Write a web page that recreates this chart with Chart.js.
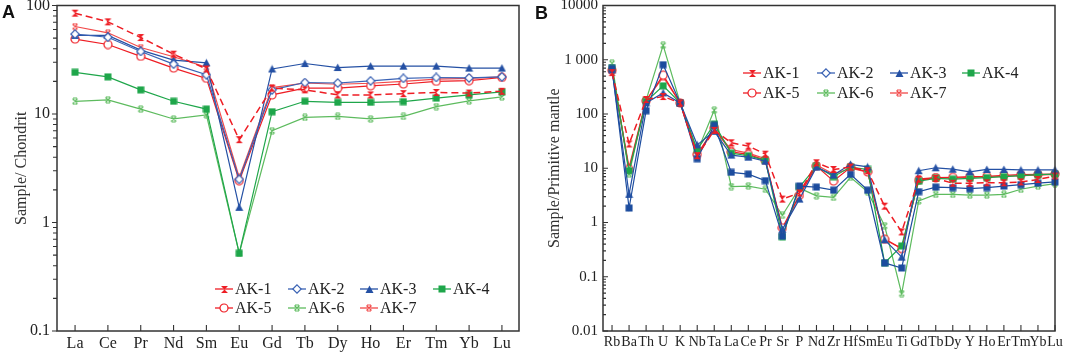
<!DOCTYPE html>
<html>
<head>
<meta charset="utf-8">
<script src="https://cdn.jsdelivr.net/npm/chart.js@4.4.1/dist/chart.umd.min.js"></script>
<style>
  body { margin: 0; background: #fff; width: 1065px; height: 353px; overflow: hidden; position: relative; }
  .box { position: absolute; top: 0; height: 353px; }
  #boxA { left: 0; width: 532px; }
  #boxB { left: 532px; width: 533px; }
  .tag { position: absolute; font: bold 18px/18px 'Liberation Sans', Arial, sans-serif; color: #111; }
</style>
</head>
<body>
<div class="box" id="boxA"><canvas id="chartA"></canvas></div>
<div class="box" id="boxB"><canvas id="chartB"></canvas></div>
<div class="tag" style="left:2px;top:3px">A</div>
<div class="tag" style="left:535px;top:4px">B</div>
<script>
// --- data ---
const elemsA = ['La', 'Ce', 'Pr', 'Nd', 'Sm', 'Eu', 'Gd', 'Tb', 'Dy', 'Ho', 'Er', 'Tm', 'Yb', 'Lu'];
const elemsB = ['Rb', 'Ba', 'Th', 'U', 'K', 'Nb', 'Ta', 'La', 'Ce', 'Pr', 'Sr', 'P', 'Nd', 'Zr', 'Hf',
                'Sm', 'Eu', 'Ti', 'Gd', 'Tb', 'Dy', 'Y', 'Ho', 'Er', 'Tm', 'Yb', 'Lu'];
const sampleNames = ['AK-1', 'AK-2', 'AK-3', 'AK-4', 'AK-5', 'AK-6', 'AK-7'];

// chondrite normalised REE (panel A)
const ak1A = [85, 70.7, 50.7, 35.6, 26, 5.8, 17.3, 16.7, 15, 15, 15.4, 15.8, 15.6, 16.2];
const ak2A = [54.5, 51, 37.7, 28.8, 23, 2.5, 16.7, 19.5, 19.3, 20.2, 21.3, 21.7, 21.5, 22];
const ak3A = [53, 53, 38.8, 31.4, 29.6, 1.38, 26, 29.2, 26.8, 27.6, 27.6, 27.6, 26.5, 26.5];
const ak4A = [24.2, 22, 16.7, 13.1, 11.1, 0.52, 10.5, 13.1, 12.8, 12.8, 13, 14, 15, 16];
const ak5A = [49, 43.7, 34, 26.5, 21.3, 2.43, 15, 17.3, 17.3, 18.2, 18.9, 20, 20.3, 21.7];
const ak6A = [13.1, 13.5, 11.1, 9.0, 9.8, 0.52, 7.0, 9.3, 9.5, 9.0, 9.5, 11.7, 13.2, 14.4];
const ak7A = [64, 56, 41, 33.7, 27, 2.6, 17.5, 19.3, 18.8, 19.2, 20, 21, 21.3, 22];

// primitive mantle normalised spider (panel B)
const ak1B = [580, 28, 185, 210, 160, 17, 50, 29.5, 25.6, 18.2, 2.7, 3.5, 12.6, 9.5, 10.5, 9, 2.0, 0.67, 6.3, 6.5, 5.3, 5.3, 5.4, 5.4, 5.6, 6.2, 7.2];
const ak2B = [690, 1.85, 115, 810, 160, 15, 62, 8.4, 7.8, 5.9, 0.56, 4.7, 4.5, 3.95, 7.7, 3.95, 0.18, 0.145, 3.7, 4.5, 4.4, 4.2, 4.4, 4.7, 5.0, 5.3, 5.6];
const ak3B = [650, 3.3, 160, 245, 160, 27, 48, 17.5, 16, 13.5, 0.75, 2.7, 10.5, 7.5, 11.8, 10.6, 0.48, 0.23, 9.0, 10.2, 9.6, 8.6, 9.5, 9.5, 9.3, 9.3, 9.3];
const ak4B = [700, 9, 170, 330, 160, 22, 65, 19, 17, 14, 0.55, 4.5, 10.8, 7.0, 10.5, 9.5, 0.18, 0.37, 5.8, 6.5, 6.3, 6.5, 6.7, 7.0, 7.3, 7.6, 7.8];
const ak5B = [640, 9.5, 175, 520, 160, 18, 55, 20, 18, 14, 0.8, 3.2, 11, 5.8, 10.4, 8.6, 0.49, 0.33, 6.0, 6.7, 6.8, 7.0, 7.1, 7.4, 7.6, 7.7, 7.8];
const ak6B = [860, 7.8, 180, 1850, 160, 20, 118, 4.6, 4.7, 4.1, 1.36, 4.3, 3.1, 2.9, 6.8, 3.7, 0.87, 0.049, 2.5, 3.3, 3.3, 3.2, 3.2, 3.3, 4.1, 4.7, 5.2];
const ak7B = [620, 10.5, 180, 480, 160, 17, 52, 22, 19, 15, 0.7, 3.2, 11.5, 7.8, 10, 8.5, 0.5, 0.33, 6.3, 6.8, 6.6, 6.8, 6.9, 7.1, 7.3, 7.5, 7.7];

const yTicksA = [0.1, 1, 10, 100];
const yLabelsA = ['0.1', '1', '10', '100'];
const yTicksB = [0.01, 0.1, 1, 10, 100, 1000, 10000];
const yLabelsB = ['0.01', '0.1', '1', '10', '100', '1 000', '10000'];

Chart.defaults.font.family = '"Liberation Serif", "Times New Roman", serif';
Chart.defaults.color = '#222';

const RED = '#ee1d24', RED2 = '#f24a4a', BLUE = '#2450a4', BLUE2 = '#3a62b4', BLUE3 = '#1c4c9e', GREEN = '#1ea64a', GREEN2 = '#5dbb5e';

// small canvases used as point markers
function marker(kind, color, s) {
    const c = document.createElement('canvas');
    c.width = s; c.height = s;
    const g = c.getContext('2d');
    const m = s / 2;
    g.strokeStyle = color; g.fillStyle = color; g.lineWidth = 1.2;
    g.beginPath();
    if (kind === 'hourglass') {
        g.moveTo(1, 1); g.lineTo(s - 1, 1); g.lineTo(1, s - 1); g.lineTo(s - 1, s - 1); g.closePath(); g.fill();
    } else if (kind === 'xbar') {
        g.moveTo(1.5, 1.5); g.lineTo(s - 1.5, s - 1.5); g.moveTo(s - 1.5, 1.5); g.lineTo(1.5, s - 1.5);
        g.moveTo(2, 1); g.lineTo(s - 2, 1); g.moveTo(2, s - 1); g.lineTo(s - 2, s - 1); g.stroke();
    } else if (kind === 'circle') {
        g.fillStyle = '#fff'; g.arc(m, m, m - 1, 0, Math.PI * 2); g.fill(); g.stroke();
    } else if (kind === 'diamond') {
        g.fillStyle = '#fff'; g.moveTo(m, 0.8); g.lineTo(s - 0.8, m); g.lineTo(m, s - 0.8); g.lineTo(0.8, m); g.closePath(); g.fill(); g.stroke();
    } else if (kind === 'triangle') {
        g.moveTo(m, 0.5); g.lineTo(s - 0.5, s - 1); g.lineTo(0.5, s - 1); g.closePath(); g.fill();
    } else if (kind === 'square') {
        g.fillRect(0.5, 0.5, s - 1, s - 1);
    }
    return c;
}

const styles = [
    { color: RED, mk: marker('hourglass', RED, 9), dash: [7, 4], width: 1.5 },
    { color: BLUE2, mk: marker('diamond', BLUE2, 10), dash: [], width: 1.2 },
    { color: BLUE, mk: marker('triangle', BLUE, 9), dash: [], width: 1.2 },
    { color: GREEN, mk: marker('square', GREEN, 8), dash: [], width: 1.2 },
    { color: RED, mk: marker('circle', RED, 10), dash: [], width: 1.2 },
    { color: GREEN2, mk: marker('xbar', GREEN2, 8), dash: [], width: 1.2 },
    { color: RED2, mk: marker('xbar', RED2, 8), dash: [], width: 1.2 }
];
const legendMarks = styles.map(s => s.mk);
// in panel B the AK-2 points are drawn as blue squares
const markB2 = marker('square', BLUE3, 8);

function makeSets(series, panel) {
    return series.map((vals, i) => {
        const st = styles[i];
        let col = st.color, mk = st.mk;
        if (panel === 'B' && i === 1) { col = BLUE3; mk = markB2; }
        return {
            label: sampleNames[i],
            data: vals.map((v, j) => ({ x: j, y: v })),
            borderColor: col,
            borderWidth: st.width,
            borderDash: st.dash,
            pointStyle: mk,
            pointRadius: 4,
            tension: 0,
            clip: false
        };
    });
}

const framePlugin = {
    id: 'frame',
    afterDraw(chart, args, o) {
        const { ctx, chartArea: a } = chart;
        const x = chart.scales.x, y = chart.scales.y;
        ctx.save();
        ctx.strokeStyle = '#333';
        ctx.lineWidth = 1.5;
        ctx.strokeRect(a.left, a.top, a.right - a.left, a.bottom - a.top);
        ctx.lineWidth = 1.1;
        ctx.beginPath();
        x.ticks.forEach(t => {
            const px = x.getPixelForValue(t.value);
            ctx.moveTo(px, a.bottom); ctx.lineTo(px, a.bottom - o.xTick);
        });
        const dir = o.yOut ? -1 : 1;
        const e0 = Math.round(Math.log10(y.min)), e1 = Math.round(Math.log10(y.max));
        for (let e = e0; e <= e1; e++) {
            for (let k = 1; k <= 9; k++) {
                if (e === e1 && k > 1) break;
                const py = y.getPixelForValue(k * Math.pow(10, e));
                const len = k === 1 ? o.major : o.minor;
                ctx.moveTo(a.left, py); ctx.lineTo(a.left + dir * len, py);
            }
        }
        ctx.stroke();
        ctx.restore();
    }
};

const legendPlugin = {
    id: 'insideLegend',
    afterDraw(chart, args, o) {
        const ctx = chart.ctx;
        ctx.save();
        ctx.font = '16px "Liberation Serif"';
        ctx.textBaseline = 'middle';
        ctx.fillStyle = '#222';
        sampleNames.forEach((name, i) => {
            const x = o.cols[i % 4], y = o.rows[Math.floor(i / 4)];
            ctx.strokeStyle = styles[i].color;
            ctx.lineWidth = 1.3;
            ctx.beginPath(); ctx.moveTo(x, y); ctx.lineTo(x + 18, y); ctx.stroke();
            const m = legendMarks[i];
            ctx.drawImage(m, Math.round(x + 9 - m.width / 2), Math.round(y - m.height / 2));
            ctx.fillText(name, x + 20, y + 1);
        });
        ctx.restore();
    }
};

function makeChart(id, cfg) {
    return new Chart(document.getElementById(id), {
        type: 'line',
        data: { datasets: cfg.sets },
        plugins: [framePlugin, legendPlugin],
        options: {
            responsive: true,
            maintainAspectRatio: false,
            animation: false,
            layout: { padding: { left: 0, right: cfg.padRight, top: 5, bottom: 0 } },
            plugins: {
                legend: { display: false },
                tooltip: { enabled: false },
                frame: cfg.frame,
                insideLegend: cfg.legend
            },
            scales: {
                x: {
                    type: 'linear', bounds: 'data', min: cfg.xMin, max: cfg.xMax,
                    grid: { display: false, drawTicks: false }, border: { display: false },
                    afterBuildTicks: s => { s.ticks = cfg.cats.map((c, i) => ({ value: i })); },
                    afterFit: s => { s.height = 22; s.paddingLeft = 0; s.paddingRight = 0; },
                    ticks: {
                        autoSkip: false, maxRotation: 0, padding: 3,
                        font: { size: cfg.xFont },
                        callback: (v, i) => cfg.cats[i]
                    }
                },
                y: {
                    type: 'logarithmic', bounds: 'data', min: cfg.yMin, max: cfg.yMax,
                    grid: { display: false, drawTicks: false }, border: { display: false },
                    afterBuildTicks: s => { s.ticks = cfg.yTicks.map(v => ({ value: v })); },
                    afterFit: s => { s.width = cfg.yWidth; s.paddingTop = 0; s.paddingBottom = 0; },
                    ticks: {
                        autoSkip: false, padding: cfg.yPad,
                        font: { size: cfg.yFont },
                        callback: (v, i) => cfg.yLabels[i]
                    },
                    title: {
                        display: true, text: cfg.title, color: '#333',
                        font: { size: 16 }, padding: { top: cfg.titlePad, bottom: 0 }
                    }
                }
            }
        }
    });
}

makeChart('chartA', {
    sets: makeSets([ak1A, ak2A, ak3A, ak4A, ak5A, ak6A, ak7A], 'A'),
    cats: elemsA, xMin: -0.55, xMax: 13.52, xFont: 16,
    yMin: 0.1, yMax: 100, yTicks: yTicksA, yLabels: yLabelsA, yFont: 16, yPad: 7, yWidth: 57,
    title: 'Sample/ Chondrit', titlePad: 12, padRight: 13,
    frame: { xTick: 6, yOut: true, major: 5, minor: 4 },
    legend: { cols: [215, 288, 360, 433], rows: [289, 308] }
});

makeChart('chartB', {
    sets: makeSets([ak1B, ak2B, ak3B, ak4B, ak5B, ak6B, ak7B], 'B'),
    cats: elemsB, xMin: -0.53, xMax: 26, xFont: 14,
    yMin: 0.01, yMax: 10000, yTicks: yTicksB, yLabels: yLabelsB, yFont: 15, yPad: 5, yWidth: 71,
    title: 'Sample/Primitive mantle', titlePad: 13, padRight: 10,
    frame: { xTick: 6, yOut: false, major: 5, minor: 3 },
    legend: { cols: [211, 285, 358, 430], rows: [73, 93] }
});
</script>
</body>
</html>
